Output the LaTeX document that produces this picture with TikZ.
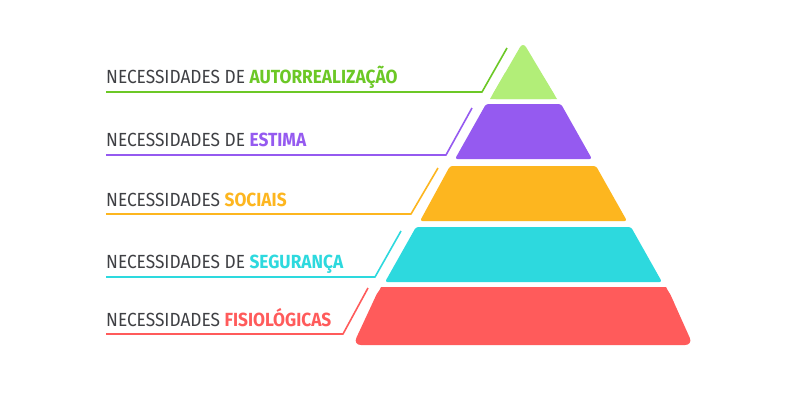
\documentclass[tikz,border=0pt]{standalone}
\usepackage{fontspec}
\setmainfont{Fira Sans}[FakeStretch=0.91]
\newfontfamily\labelbold{Fira Sans Bold}[FakeStretch=0.91]
\definecolor{txtgray}{HTML}{3F4044}
\definecolor{cgreen}{HTML}{6CC826}
\definecolor{fgreen}{HTML}{B2EE78}
\definecolor{cpurple}{HTML}{955AF0}
\definecolor{corange}{HTML}{FDB61F}
\definecolor{ccyan}{HTML}{2DD9DE}
\definecolor{cred}{HTML}{FF5B5B}
\tikzset{
  lbl/.style={anchor=base west, inner sep=0pt, font=\fontsize{19}{21}\selectfont, text=txtgray},
  leader/.style={line width=1.6pt, line join=round},
  layer/.style={rounded corners=2.5pt}
}
\begin{document}
\begin{tikzpicture}[x=1pt,y=-1pt]
\useasboundingbox (0,0) rectangle (800,400);
\fill[white] (0,0) rectangle (800,400);
% pyramid layers
\fill[fgreen, rounded corners=6pt] (490,99) -- (523,42) -- (557,99) -- cycle;
\fill[fgreen] (490,99) -- (505,73) -- (541,73) -- (557,99) -- cycle;
\fill[cpurple, layer] (486,104) -- (561,104) -- (592,159) -- (455,159) -- cycle;
\fill[corange, layer] (450,166) -- (596,166) -- (627,221) -- (420,221) -- cycle;
\fill[ccyan, layer] (416,227) -- (631,227) -- (662,282) -- (385,282) -- cycle;
\fill[cred, rounded corners=8pt] (380,287) -- (667,287) -- (693,345) -- (353,345) -- cycle;
\fill[cred] (381,287) -- (666,287) -- (674,303) -- (373,303) -- cycle;
% labels
\node[lbl] (t1) at (106,83) {NECESSIDADES DE {\labelbold\color{cgreen}AUTORREALIZAÇÃO}};
\node[lbl] (t2) at (106,146) {NECESSIDADES DE {\labelbold\color{cpurple}ESTIMA}};
\node[lbl] (t3) at (106,206) {NECESSIDADES {\labelbold\color{corange}SOCIAIS}};
\node[lbl] (t4) at (106,268) {NECESSIDADES DE {\labelbold\color{ccyan}SEGURANÇA}};
\node[lbl] (t5) at (106,326) {NECESSIDADES {\labelbold\color{cred}FISIOLÓGICAS}};
% leader lines
\coordinate (a1) at (106,92);  \coordinate (b1) at (482,92);  \coordinate (c1) at (507,48);
\coordinate (a2) at (106,155); \coordinate (b2) at (446,155); \coordinate (c2) at (472,108);
\coordinate (a3) at (106,214); \coordinate (b3) at (411,214); \coordinate (c3) at (438,168);
\coordinate (a4) at (106,277); \coordinate (b4) at (375,277); \coordinate (c4) at (401,231);
\coordinate (a5) at (106,334); \coordinate (b5) at (343,334); \coordinate (c5) at (368,288);
\draw[leader, cgreen] (a1) -- (b1) -- (c1);
\draw[leader, cpurple] (a2) -- (b2) -- (c2);
\draw[leader, corange] (a3) -- (b3) -- (c3);
\draw[leader, ccyan] (a4) -- (b4) -- (c4);
\draw[leader, cred] (a5) -- (b5) -- (c5);
\end{tikzpicture}
\end{document}
